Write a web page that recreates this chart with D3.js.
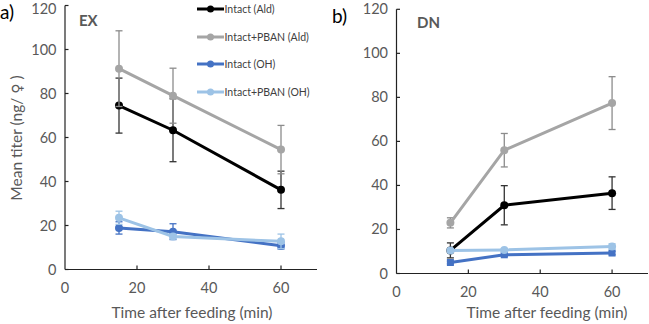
<!DOCTYPE html>
<html>
<head>
<meta charset="utf-8">
<script src="https://cdn.jsdelivr.net/npm/d3@7"></script>
<style>
  body { margin: 0; background: #fff; }
  svg { display: block; font-family: Lato, "Open Sans", sans-serif; }
</style>
</head>
<body>
<svg id="chart" width="649" height="324"></svg>
<script>
// sampling times (min)
var times = [15, 30, 60];

var seriesNames = ['Intact (Ald)', 'Intact+PBAN (Ald)', 'Intact (OH)', 'Intact+PBAN (OH)'];
var seriesColors = ['#000000', '#a5a5a5', '#4472c4', '#9dc3e6'];
var errColors = ['#333333', '#8c8c8c', '#4472c4', '#9dc3e6'];

// EX panel means and errors
var exIntactAld = [74.5, 63.3, 36.2];
var exIntactAldErr = [12.5, 14.3, 8.5];
var exPbanAld = [91.3, 79.0, 54.5];
var exPbanAldErr = [17.2, 12.5, 11.0];
var exIntactOH = [18.9, 17.2, 10.8];
var exIntactOHErr = [2.8, 3.6, 1.5];
var exPbanOH = [23.5, 15.0, 12.8];
var exPbanOHErr = [3.0, 1.0, 3.3];

// DN panel means and errors
var dnIntactAld = [10.5, 31.0, 36.5];
var dnIntactAldErr = [3.4, 8.9, 7.4];
var dnPbanAld = [23.0, 56.0, 77.4];
var dnPbanAldErr = [2.3, 7.6, 12.0];
var dnIntactOH = [5.0, 8.5, 9.3];
var dnIntactOHErr = [0.6, 0.8, 0.8];
var dnPbanOH = [10.4, 10.7, 12.3];
var dnPbanOHErr = [0.8, 0.6, 1.2];

var xTicks = [0, 20, 40, 60];
var yTicks = [0, 20, 40, 60, 80, 100, 120];

var svg = d3.select('#chart');

function drawPanel(opt) {
	var x = d3.scaleLinear().domain([0, 70]).range([opt.left, opt.right]),
		y = d3.scaleLinear().domain([0, 120]).range([opt.bottom, opt.top]),
		g = svg.append('g');

	// axes
	g.append('line')
		.attr('x1', x(0)).attr('x2', x(0))
		.attr('y1', y(0)).attr('y2', y(120))
		.attr('stroke', '#222').attr('stroke-width', 1.2);
	g.append('line')
		.attr('x1', x(0)).attr('x2', x(70))
		.attr('y1', y(0)).attr('y2', y(0))
		.attr('stroke', '#222').attr('stroke-width', 1.2);

	// y ticks (inside) + labels
	g.selectAll('.yt').data(yTicks).enter().append('line')
		.attr('x1', x(0)).attr('x2', x(0) + 3.5)
		.attr('y1', function(d) { return y(d); })
		.attr('y2', function(d) { return y(d); })
		.attr('stroke', '#222').attr('stroke-width', 1.2);
	g.selectAll('.yl').data(yTicks).enter().append('text')
		.text(function(d) { return d; })
		.attr('x', x(0) - 8.5)
		.attr('y', function(d) { return Math.max(y(d) + 5, 14); })
		.attr('text-anchor', 'end')
		.attr('font-size', 14.5)
		.attr('fill', '#595959');

	// x ticks (inside) + labels
	g.selectAll('.xt').data(xTicks.filter(function(d) { return d > 0; })).enter().append('line')
		.attr('x1', function(d) { return x(d); })
		.attr('x2', function(d) { return x(d); })
		.attr('y1', y(0)).attr('y2', y(0) - 4)
		.attr('stroke', '#222').attr('stroke-width', 1.2);
	g.selectAll('.xl').data(xTicks).enter().append('text')
		.text(function(d) { return d; })
		.attr('x', function(d) { return x(d); })
		.attr('y', y(0) + opt.xLabelDy)
		.attr('text-anchor', 'middle')
		.attr('font-size', 14.5)
		.attr('fill', '#595959');

	// x title
	g.append('text')
		.text('Time after feeding (min)')
		.attr('x', opt.xTitleX)
		.attr('y', 318)
		.attr('text-anchor', 'middle')
		.attr('font-size', 15.5)
		.attr('fill', '#595959');

	// panel label and tag
	g.append('text').text(opt.label)
		.attr('x', opt.labelX).attr('y', opt.labelY)
		.attr('font-size', 19).attr('fill', '#000');
	g.append('text').text(opt.tag)
		.attr('x', opt.tagX).attr('y', opt.tagY)
		.attr('font-size', 15).attr('font-weight', 'bold')
		.attr('fill', '#595959');

	var line = d3.line()
		.x(function(d) { return x(d.t); })
		.y(function(d) { return y(d.v); });

	opt.series.forEach(function(s, i) {
		var pts = times.map(function(t, k) { return {t: t, v: s.vals[k], e: s.errs[k]}; });

		// error bars
		var eb = g.append('g').attr('stroke', errColors[i]).attr('stroke-width', 1.3);
		pts.forEach(function(p) {
			eb.append('line')
				.attr('x1', x(p.t)).attr('x2', x(p.t))
				.attr('y1', y(p.v - p.e)).attr('y2', y(p.v + p.e));
			[p.v - p.e, p.v + p.e].forEach(function(v) {
				eb.append('line')
					.attr('x1', x(p.t) - 3.5).attr('x2', x(p.t) + 3.5)
					.attr('y1', y(v)).attr('y2', y(v));
			});
		});

		g.append('path')
			.datum(pts)
			.attr('d', line)
			.attr('fill', 'none')
			.attr('stroke', seriesColors[i])
			.attr('stroke-width', 3);

		if (s.square) {
			g.selectAll(null).data(pts).enter().append('rect')
				.attr('x', function(d) { return x(d.t) - 3.5; })
				.attr('y', function(d) { return y(d.v) - 3.5; })
				.attr('width', 7).attr('height', 7)
				.attr('fill', seriesColors[i]);
		} else {
			g.selectAll(null).data(pts).enter().append('circle')
				.attr('cx', function(d) { return x(d.t); })
				.attr('cy', function(d) { return y(d.v); })
				.attr('r', 4)
				.attr('fill', seriesColors[i]);
		}
	});
}

drawPanel({
	left: 65, right: 317, top: 5.5, bottom: 269.5,
	xLabelDy: 23, xTitleX: 192,
	label: 'a)', labelX: 0, labelY: 19,
	tag: 'EX', tagX: 79, tagY: 26,
	series: [
		{vals: exIntactAld, errs: exIntactAldErr},
		{vals: exPbanAld, errs: exPbanAldErr},
		{vals: exIntactOH, errs: exIntactOHErr},
		{vals: exPbanOH, errs: exPbanOHErr}
	]
});

drawPanel({
	left: 396.5, right: 648, top: 9.3, bottom: 273.5,
	xLabelDy: 23, xTitleX: 547,
	label: 'b)', labelX: 332, labelY: 23,
	tag: 'DN', tagX: 417, tagY: 28,
	series: [
		{vals: dnIntactAld, errs: dnIntactAldErr},
		{vals: dnPbanAld, errs: dnPbanAldErr},
		{vals: dnIntactOH, errs: dnIntactOHErr, square: true},
		{vals: dnPbanOH, errs: dnPbanOHErr}
	]
});

// y title, left panel only
var yTitle = svg.append('text')
	.attr('transform', 'translate(22,138) rotate(-90)')
	.attr('text-anchor', 'middle')
	.attr('font-size', 15.5)
	.attr('fill', '#595959');
yTitle.append('tspan').text('Mean titer (ng/ ');
yTitle.append('tspan').text('\u2640').attr('font-family', 'DejaVu Sans').attr('font-size', 14);
yTitle.append('tspan').text(' )');

// legend
var legendY = [9, 37, 64, 92];
var legend = svg.append('g');
seriesNames.forEach(function(name, i) {
	legend.append('line')
		.attr('x1', 197).attr('x2', 224)
		.attr('y1', legendY[i]).attr('y2', legendY[i])
		.attr('stroke', seriesColors[i]).attr('stroke-width', 3);
	legend.append('circle')
		.attr('cx', 210.5).attr('cy', legendY[i]).attr('r', 3.5)
		.attr('fill', seriesColors[i]);
	legend.append('text')
		.text(name)
		.attr('x', 224.5).attr('y', legendY[i] + 4)
		.attr('font-size', 10.5)
		.attr('fill', '#404040');
});
</script>
</body>
</html>
